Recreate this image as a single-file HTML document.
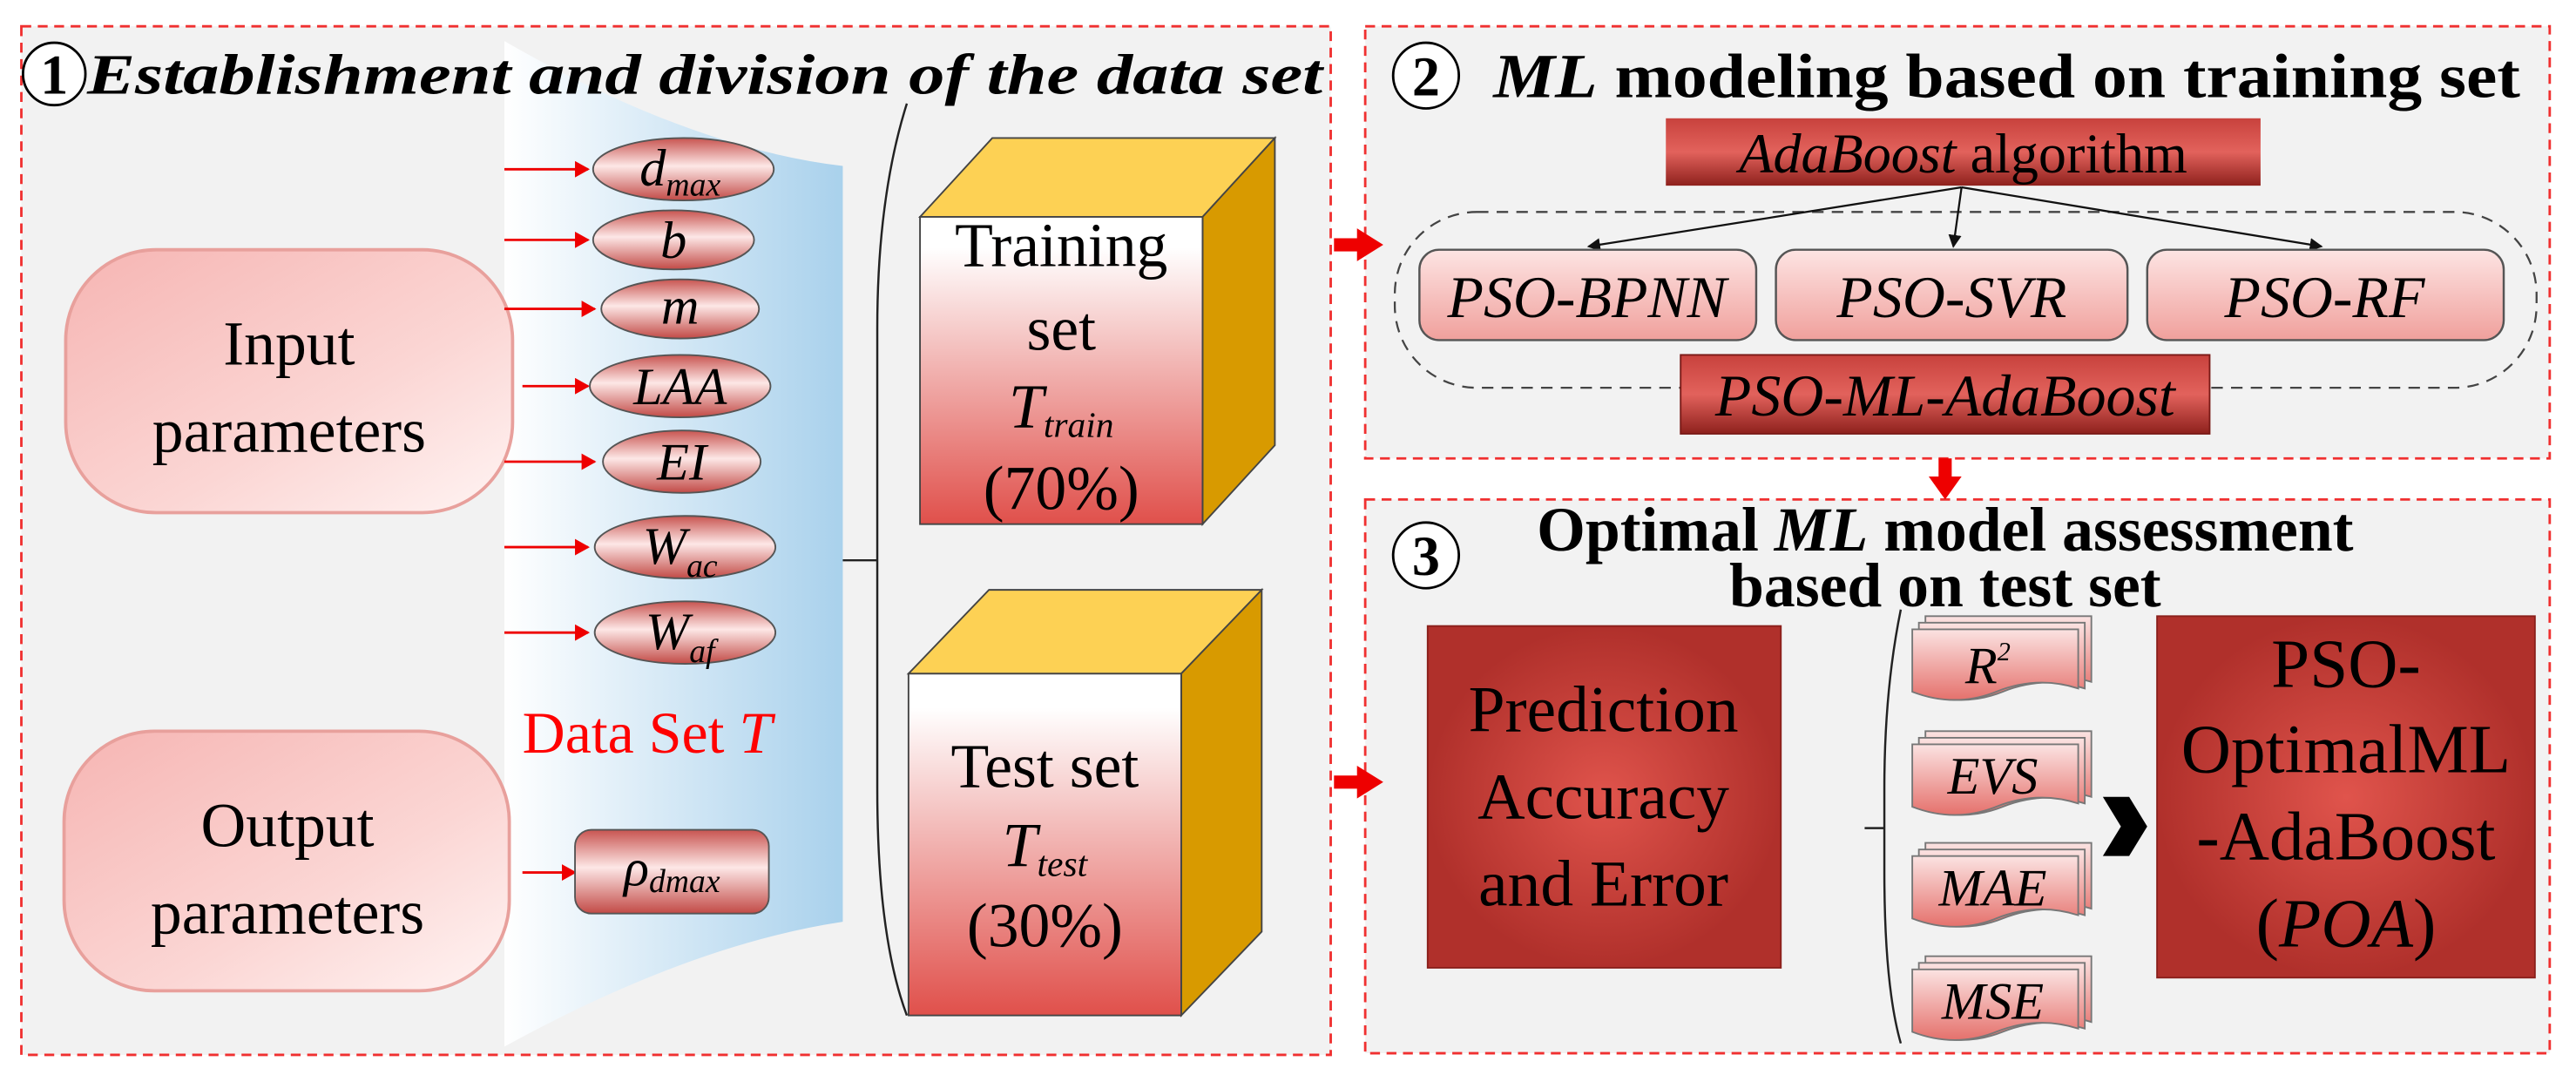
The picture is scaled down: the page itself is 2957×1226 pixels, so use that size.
<!DOCTYPE html>
<html><head><meta charset="utf-8"><style>html,body{margin:0;padding:0;background:#fff}svg{display:block}svg text{font-family:"Liberation Serif","Times New Roman","DejaVu Serif",serif}</style></head>
<body>
<svg width="2957" height="1226" viewBox="0 0 1568 650" preserveAspectRatio="none" xmlns="http://www.w3.org/2000/svg" font-family="'Liberation Serif', 'Times New Roman', serif">
<defs>
<linearGradient id="blue" x1="0" x2="1" y1="0" y2="0"><stop offset="0" stop-color="#ffffff"/><stop offset="1" stop-color="#a9d1ec"/></linearGradient>
<linearGradient id="pink" x1="0" y1="0" x2="1" y2="1"><stop offset="0" stop-color="#f6b5b3"/><stop offset="0.6" stop-color="#fbd6d4"/><stop offset="1" stop-color="#fff4f3"/></linearGradient>
<linearGradient id="ell" x1="0" y1="0" x2="0" y2="1"><stop offset="0" stop-color="#c85450"/><stop offset="0.45" stop-color="#fde7e6"/><stop offset="1" stop-color="#c24a46"/></linearGradient>
<linearGradient id="cube" x1="0" y1="0" x2="0" y2="1"><stop offset="0.1" stop-color="#ffffff"/><stop offset="1" stop-color="#e0504b"/></linearGradient>
<linearGradient id="pbox" x1="0" y1="0" x2="0" y2="1"><stop offset="0" stop-color="#fde4e3"/><stop offset="1" stop-color="#f0a09c"/></linearGradient>
<linearGradient id="dark" x1="0" y1="0" x2="0" y2="1"><stop offset="0" stop-color="#c8423d"/><stop offset="0.5" stop-color="#e2625c"/><stop offset="1" stop-color="#8e211d"/></linearGradient>
<radialGradient id="red"><stop offset="0" stop-color="#e0544c"/><stop offset="1" stop-color="#b0302b"/></radialGradient>
<linearGradient id="doc" x1="0" y1="0" x2="0" y2="1"><stop offset="0" stop-color="#fbe3e2"/><stop offset="1" stop-color="#e5716c"/></linearGradient>
<marker id="ah" markerWidth="8" markerHeight="8" refX="7" refY="4" orient="auto" markerUnits="userSpaceOnUse"><path d="M0,0 L8,4 L0,8 z" fill="#111"/></marker>
<marker id="rh" markerWidth="9" markerHeight="10" refX="8" refY="5" orient="auto" markerUnits="userSpaceOnUse"><path d="M0,0 L9,5 L0,10 z" fill="#e00"/></marker>
</defs>
<rect x="13" y="16" width="797" height="626" fill="#f2f2f2" stroke="#f03030" stroke-width="1.5" stroke-dasharray="6,4"/>
<rect x="831" y="16" width="721" height="263" fill="#f2f2f2" stroke="#f03030" stroke-width="1.5" stroke-dasharray="6,4"/>
<rect x="831" y="304" width="721" height="337" fill="#f2f2f2" stroke="#f03030" stroke-width="1.5" stroke-dasharray="6,4"/>
<path d="M307,25 Q420,90 513,101 L513,561 Q420,575 307,637 Z" fill="url(#blue)"/>
<circle cx="33" cy="45" r="19" fill="#fff" stroke="#000" stroke-width="1.5"/>
<text x="33" y="57" font-size="34" text-anchor="middle" font-weight="bold">1</text>
<text x="53" y="57" font-size="35" font-style="italic" font-weight="bold" textLength="752" lengthAdjust="spacingAndGlyphs">Establishment and division of the data set</text>
<rect x="40" y="152" width="272" height="160" rx="55" fill="url(#pink)" stroke="#e8a09c" stroke-width="2"/>
<text x="176" y="222" font-size="38" text-anchor="middle">Input</text>
<text x="176" y="275" font-size="38" text-anchor="middle">parameters</text>
<rect x="39" y="445" width="271" height="158" rx="55" fill="url(#pink)" stroke="#e8a09c" stroke-width="2"/>
<text x="175" y="515" font-size="38" text-anchor="middle">Output</text>
<text x="175" y="568" font-size="38" text-anchor="middle">parameters</text>
<g stroke="#e00" stroke-width="1.5">
<line x1="307" y1="103" x2="358" y2="103" marker-end="url(#rh)"/>
<line x1="307" y1="146" x2="358" y2="146" marker-end="url(#rh)"/>
<line x1="307" y1="188" x2="362" y2="188" marker-end="url(#rh)"/>
<line x1="318" y1="235" x2="358" y2="235" marker-end="url(#rh)"/>
<line x1="307" y1="281" x2="362" y2="281" marker-end="url(#rh)"/>
<line x1="307" y1="333" x2="358" y2="333" marker-end="url(#rh)"/>
<line x1="307" y1="385" x2="358" y2="385" marker-end="url(#rh)"/>
<line x1="318" y1="531" x2="350" y2="531" marker-end="url(#rh)"/>
</g>
<g fill="url(#ell)" stroke="#555" stroke-width="1">
<ellipse cx="416" cy="103" rx="55" ry="19"/>
<ellipse cx="410" cy="146" rx="49" ry="18"/>
<ellipse cx="414" cy="188" rx="48" ry="18"/>
<ellipse cx="414" cy="235" rx="55" ry="19"/>
<ellipse cx="415" cy="281" rx="48" ry="19"/>
<ellipse cx="417" cy="333" rx="55" ry="19"/>
<ellipse cx="417" cy="385" rx="55" ry="19"/>
</g>
<g font-size="32" font-style="italic" text-anchor="middle">
<text x="414" y="113">d<tspan font-size="20" dy="6">max</tspan></text>
<text x="410" y="157">b</text>
<text x="414" y="197">m</text>
<text x="414" y="246">LAA</text>
<text x="415" y="292">EI</text>
<text x="414" y="343">W<tspan font-size="20" dy="8">ac</tspan></text>
<text x="414" y="395">W<tspan font-size="20" dy="8">af</tspan></text>
</g>
<rect x="350" y="505" width="118" height="51" rx="10" fill="url(#ell)" stroke="#555"/>
<text x="409" y="539" font-size="32" font-style="italic" text-anchor="middle">ρ<tspan font-size="20" dy="4">dmax</tspan></text>
<text x="318" y="458" font-size="36" fill="#f00">Data Set  <tspan font-style="italic">T</tspan></text>
<path d="M552,63 Q534,120 534,200 L534,480 Q534,570 552,618" fill="none" stroke="#222" stroke-width="1.3"/>
<line x1="513" y1="341" x2="534" y2="341" stroke="#222" stroke-width="1.3"/>
<g stroke="#444" stroke-width="1">
<polygon points="560,132 604,84 776,84 732,132" fill="#fdd154"/>
<polygon points="732,132 776,84 776,271 732,319" fill="#d89a00"/>
<rect x="560" y="132" width="172" height="187" fill="url(#cube)"/>
<polygon points="553,410 602,359 768,359 719,410" fill="#fdd154"/>
<polygon points="719,410 768,359 768,567 719,618" fill="#d89a00"/>
<rect x="553" y="410" width="166" height="208" fill="url(#cube)"/>
</g>
<g font-size="38" text-anchor="middle">
<text x="646" y="162">Training</text>
<text x="646" y="213">set</text>
<text x="646" y="260" font-style="italic">T<tspan font-size="22" dy="6">train</tspan></text>
<text x="646" y="310">(70%)</text>
<text x="636" y="479">Test set</text>
<text x="636" y="527" font-style="italic">T<tspan font-size="22" dy="6">test</tspan></text>
<text x="636" y="576">(30%)</text>
</g>
<g fill="#e00">
<rect x="812" y="145" width="16" height="8"/><polygon points="826,139 842,149 826,159"/>
<rect x="812" y="472" width="16" height="8"/><polygon points="826,466 842,476 826,486"/>
<rect x="1180" y="279" width="8" height="13"/><polygon points="1174,290 1194,290 1184,304"/>
</g>
<circle cx="868" cy="46" r="20" fill="#fff" stroke="#000" stroke-width="1.5"/>
<text x="868" y="58" font-size="34" text-anchor="middle" font-weight="bold">2</text>
<text x="909" y="59" font-size="38" font-weight="bold" textLength="625" lengthAdjust="spacingAndGlyphs"><tspan font-style="italic">ML</tspan> modeling based on training set</text>
<rect x="849" y="129" width="695" height="107" rx="50" fill="none" stroke="#444" stroke-width="1.2" stroke-dasharray="7,5"/>
<rect x="1014" y="72" width="362" height="41" fill="url(#dark)"/>
<text x="1195" y="105" font-size="34" text-anchor="middle"><tspan font-style="italic">AdaBoost</tspan> algorithm</text>
<g stroke="#111" stroke-width="1.2">
<line x1="1194" y1="114" x2="967" y2="150" marker-end="url(#ah)"/>
<line x1="1194" y1="114" x2="1189" y2="150" marker-end="url(#ah)"/>
<line x1="1194" y1="114" x2="1413" y2="150" marker-end="url(#ah)"/>
</g>
<g fill="url(#pbox)" stroke="#555" stroke-width="1.3">
<rect x="864" y="152" width="205" height="55" rx="12"/>
<rect x="1081" y="152" width="214" height="55" rx="12"/>
<rect x="1307" y="152" width="217" height="55" rx="12"/>
</g>
<g font-size="36" font-style="italic" text-anchor="middle">
<text x="966" y="193">PSO-BPNN</text>
<text x="1188" y="193">PSO-SVR</text>
<text x="1415" y="193">PSO-RF</text>
</g>
<rect x="1023" y="216" width="322" height="48" fill="url(#dark)" stroke="#7a1a17"/>
<text x="1184" y="253" font-size="36" font-style="italic" text-anchor="middle">PSO-ML-AdaBoost</text>
<circle cx="868" cy="338" r="20" fill="#fff" stroke="#000" stroke-width="1.5"/>
<text x="868" y="350" font-size="34" text-anchor="middle" font-weight="bold">3</text>
<text x="1184" y="335" font-size="38" font-weight="bold" text-anchor="middle">Optimal <tspan font-style="italic">ML</tspan> model assessment</text>
<text x="1184" y="369" font-size="38" font-weight="bold" text-anchor="middle">based on test set</text>
<rect x="869" y="381" width="215" height="208" fill="url(#red)" stroke="#8a1f1b"/>
<g font-size="40" text-anchor="middle">
<text x="976" y="445">Prediction</text>
<text x="976" y="498">Accuracy</text>
<text x="976" y="551">and Error</text>
</g>
<path d="M1157,371 Q1147,420 1147,480 L1147,530 Q1147,600 1157,635" fill="none" stroke="#222" stroke-width="1.3"/>
<line x1="1135" y1="504" x2="1147" y2="504" stroke="#222" stroke-width="1.3"/>
<g stroke="#777" stroke-width="1" fill="url(#doc)">
<path d="M1172,375 h101 v40 q-25,-8 -50,2 t-51,0 z"/><path d="M1168,379 h101 v40 q-25,-8 -50,2 t-51,0 z"/><path d="M1164,383 h101 v36 q-25,-8 -50,2 t-51,0 z"/>
<path d="M1172,445 h101 v40 q-25,-8 -50,2 t-51,0 z"/><path d="M1168,449 h101 v40 q-25,-8 -50,2 t-51,0 z"/><path d="M1164,453 h101 v36 q-25,-8 -50,2 t-51,0 z"/>
<path d="M1172,513 h101 v40 q-25,-8 -50,2 t-51,0 z"/><path d="M1168,517 h101 v40 q-25,-8 -50,2 t-51,0 z"/><path d="M1164,521 h101 v36 q-25,-8 -50,2 t-51,0 z"/>
<path d="M1172,582 h101 v40 q-25,-8 -50,2 t-51,0 z"/><path d="M1168,586 h101 v40 q-25,-8 -50,2 t-51,0 z"/><path d="M1164,590 h101 v36 q-25,-8 -50,2 t-51,0 z"/>
</g>
<g font-size="32" font-style="italic" text-anchor="middle">
<text x="1210" y="416">R<tspan font-size="16" dy="-14">2</tspan></text>
<text x="1213" y="483">EVS</text>
<text x="1213" y="551">MAE</text>
<text x="1213" y="620">MSE</text>
</g>
<polygon points="1280,485 1296,485 1307,503 1296,521 1280,521 1291,503" fill="#000"/>
<rect x="1313" y="375" width="230" height="220" fill="url(#red)" stroke="#8a1f1b"/>
<g font-size="42" text-anchor="middle">
<text x="1428" y="418">PSO-</text>
<text x="1428" y="470">OptimalML</text>
<text x="1428" y="523">-AdaBoost</text>
<text x="1428" y="576">(<tspan font-style="italic">POA</tspan>)</text>
</g>
</svg>
</body></html>
